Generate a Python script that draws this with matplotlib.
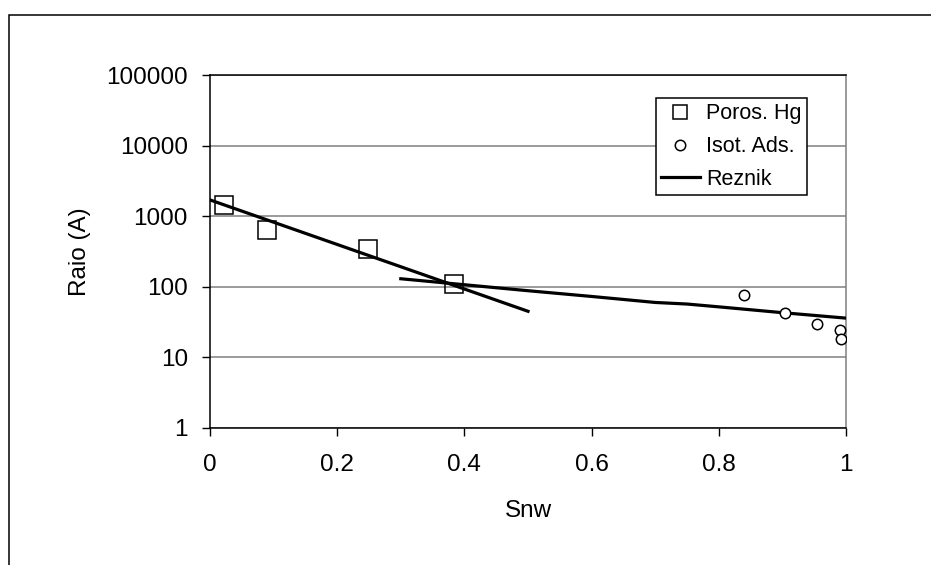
import matplotlib.pyplot as plt
from matplotlib.patches import Rectangle
from matplotlib.lines import Line2D
from matplotlib.ticker import FixedLocator, NullLocator, FixedFormatter

plt.rcParams['font.family'] = ['Liberation Sans', 'DejaVu Sans']

# mercury porosimetry
snw_hg = [0.022, 0.09, 0.248, 0.384]
raio_hg = [1460, 640, 343, 108]

# isotherm adsorption
snw_ads = [0.84, 0.904, 0.955, 0.99, 0.992]
raio_ads = [76, 43, 30, 24.4, 18.4]

# Reznik model, two branches
snw_rez1 = [0.0, 0.5]
raio_rez1 = [1700, 45]
snw_rez2 = [0.3, 0.4, 0.5, 0.6, 0.7, 0.75, 0.8, 0.9, 1.0]
raio_rez2 = [130, 107, 88, 73, 60, 57, 52, 43, 36]

yticks = [1, 10, 100, 1000, 10000, 100000]
xticks = [0, 0.2, 0.4, 0.6, 0.8, 1]
xticklabels = ['0', '0.2', '0.4', '0.6', '0.8', '1']

fs = 17.5

fig = plt.figure(figsize=(9.31, 5.65), dpi=100)
ax = fig.add_axes([210 / 931, 1 - 428 / 565, 636 / 931, 353 / 565])

# outer chart border
fig.patches.append(Rectangle((9 / 931, -0.2), 1.2, 1.2 - 15 / 565,
                             transform=fig.transFigure, fill=False,
                             edgecolor='black', linewidth=1.1))

ax.plot(snw_hg, raio_hg, linestyle='none', marker='s', markersize=12.5,
        markerfacecolor='none', markeredgecolor='black', markeredgewidth=1.1,
        zorder=4)
ax.plot(snw_ads, raio_ads, linestyle='none', marker='o', markersize=7.5,
        markerfacecolor='white', markeredgecolor='black', markeredgewidth=1.1,
        zorder=4)
ax.plot(snw_rez1, raio_rez1, color='black', linewidth=2.3, zorder=3)
ax.plot(snw_rez2, raio_rez2, color='black', linewidth=2.3, zorder=3)

ax.set_yscale('log')
ax.set_xlim(0, 1)
ax.set_ylim(1, 100000)
ax.yaxis.set_major_locator(FixedLocator(yticks))
ax.yaxis.set_major_formatter(FixedFormatter([str(t) for t in yticks]))
ax.yaxis.set_minor_locator(NullLocator())
ax.set_xticks(xticks)
ax.set_xticklabels(xticklabels)

ax.grid(axis='y', color='#808080', linewidth=1.1)
ax.set_axisbelow(True)
for side in ['left', 'bottom', 'top']:
    ax.spines[side].set_color('black')
    ax.spines[side].set_linewidth(1.1)
ax.spines['right'].set_color('#808080')
ax.spines['right'].set_linewidth(1.1)

ax.tick_params(axis='both', direction='out', length=6, width=1,
               labelsize=fs, color='black')
ax.tick_params(axis='x', pad=13)
ax.tick_params(axis='y', pad=10)

ax.set_xlabel('Snw', fontsize=fs, labelpad=17)
ax.set_ylabel('Raio (A)', fontsize=fs, labelpad=11)

# legend keys
handles = [
    Line2D([], [], linestyle='none', marker='s', markersize=9.5,
           markerfacecolor='none', markeredgecolor='black', markeredgewidth=1.1),
    Line2D([], [], linestyle='none', marker='o', markersize=7.5,
           markerfacecolor='white', markeredgecolor='black', markeredgewidth=1.1),
    Line2D([], [], color='black', linewidth=2.3),
]
labels = ['Poros. Hg', 'Isot. Ads.', 'Reznik']
leg = ax.legend(handles, labels, loc='upper right',
                bbox_to_anchor=(0.9387, 0.935),
                fontsize=15.5, frameon=True, fancybox=False, framealpha=1,
                edgecolor='black', handlelength=1.8, borderpad=0.25,
                labelspacing=0.55, handletextpad=0.3, borderaxespad=0)
leg.get_frame().set_linewidth(1.1)

fig.savefig('out.png', dpi=100)
